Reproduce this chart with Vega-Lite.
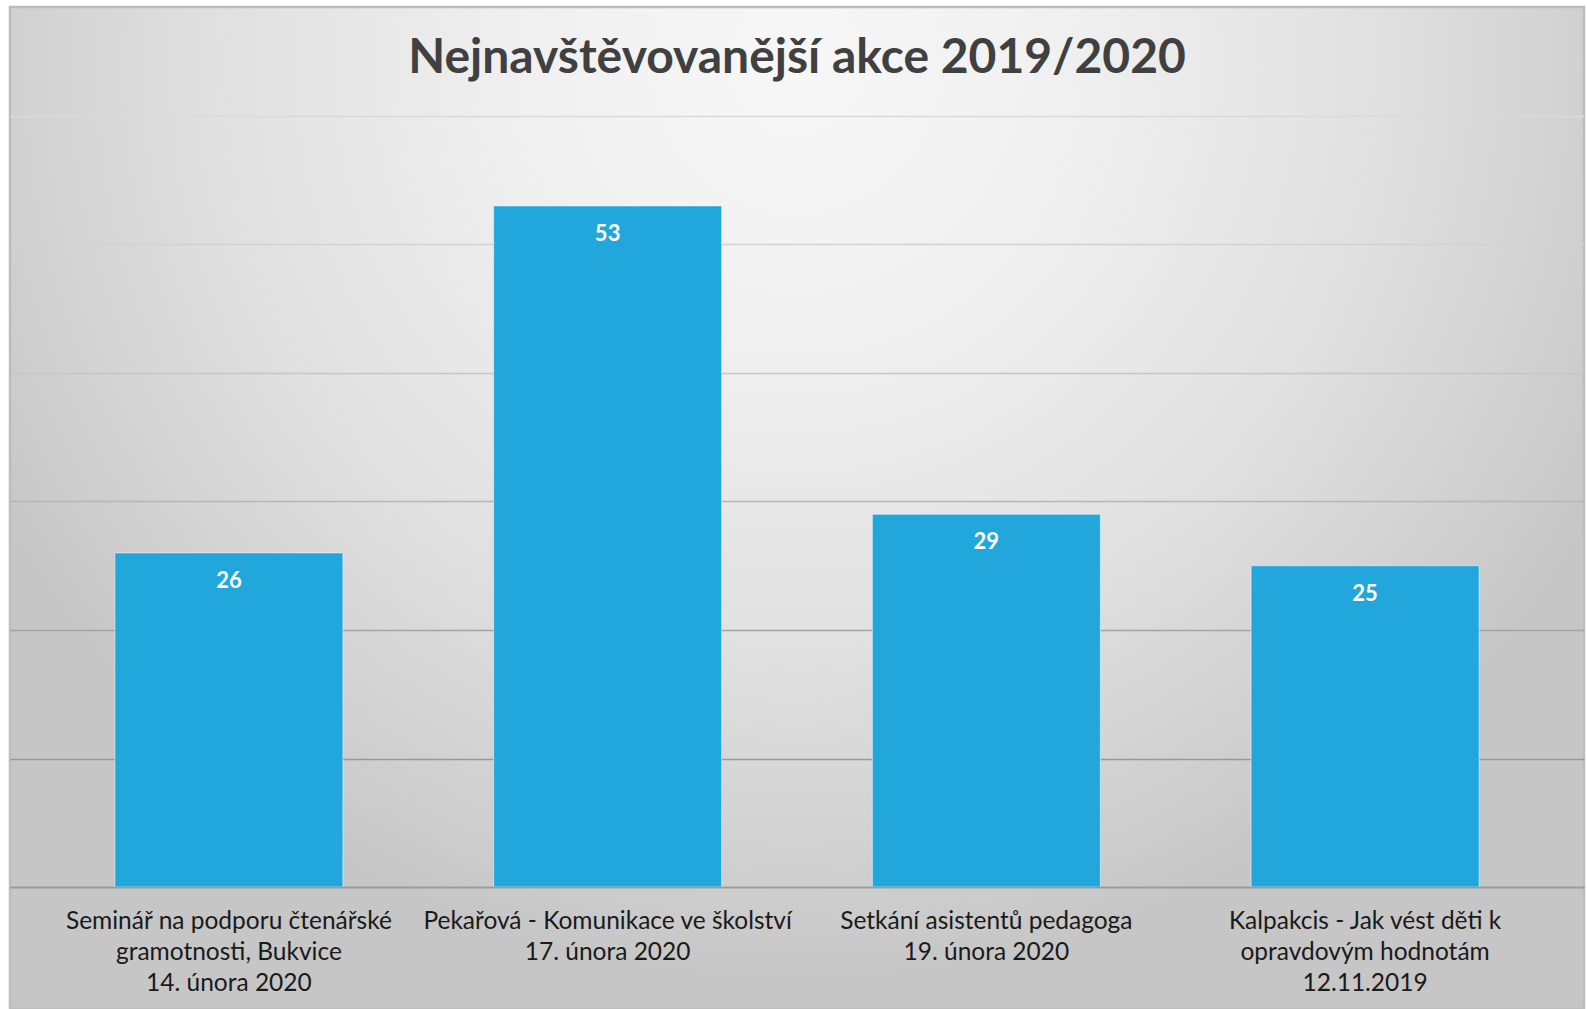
{
  "$schema": "https://vega.github.io/schema/vega-lite/v6.json",
  "width": 1574,
  "height": 1002,
  "autosize": {"type": "none"},
  "padding": {"left": 10, "top": 7, "right": 3, "bottom": 0},
  "background": "#ffffff",
  "view": {
    "fill": {
      "gradient": "radial",
      "x1": 0.5, "y1": 0.22, "r1": 0,
      "x2": 0.5, "y2": 0.22, "r2": 0.58,
      "stops": [
        {"offset": 0, "color": "#f7f7f7"},
        {"offset": 0.3, "color": "#f0f0f0"},
        {"offset": 0.64, "color": "#e0e0e0"},
        {"offset": 0.8, "color": "#d5d5d5"},
        {"offset": 0.94, "color": "#cbcbcb"},
        {"offset": 1, "color": "#c6c6c6"}
      ]
    },
    "stroke": "#bdbdbd",
    "strokeWidth": 2.5
  },
  "title": {
    "text": "Nejnavštěvovanější akce 2019/2020",
    "font": "Lato",
    "fontSize": 48,
    "fontWeight": "bold",
    "color": "#404040",
    "anchor": "middle",
    "baseline": "alphabetic",
    "offset": -114
  },
  "data": {
    "values": [
      {"akce": "Seminář na podporu čtenářské|gramotnosti, Bukvice|14. února 2020", "pocet": 26},
      {"akce": "Pekařová - Komunikace ve školství|17. února 2020", "pocet": 53},
      {"akce": "Setkání asistentů pedagoga|19. února 2020", "pocet": 29},
      {"akce": "Kalpakcis - Jak vést děti k|opravdovým hodnotám|12.11.2019", "pocet": 25}
    ]
  },
  "encoding": {
    "x": {
      "field": "akce",
      "type": "nominal",
      "sort": null,
      "scale": {"paddingInner": 0.398, "paddingOuter": 0.277},
      "axis": {
        "title": null,
        "orient": "bottom",
        "offset": -122,
        "domainColor": "#9a9a9a",
        "domainWidth": 1.5,
        "ticks": false,
        "tickSize": 0,
        "labelPadding": 22,
        "labelAngle": 0,
        "labelFont": "Lato",
        "labelFontSize": 24.5,
        "labelColor": "#1a1a1a",
        "labelLineHeight": 31,
        "labelBaseline": "top",
        "labelLimit": 0,
        "labelOverlap": false,
        "labelExpr": "split(datum.label, '|')",
        "grid": false,
        "zindex": 1
      }
    },
    "y": {
      "field": "pocet",
      "type": "quantitative",
      "scale": {"domain": [-9.494, 68.482], "nice": false, "zero": false},
      "axis": {
        "title": null,
        "labels": false,
        "ticks": false,
        "domain": false,
        "values": [0, 10, 20, 30, 40, 50, 60],
        "grid": true,
        "gridWidth": 1.5,
        "gridColor": {
          "condition": [
            {"test": "datum.value >= 60", "value": "#dadada"},
            {"test": "datum.value >= 50", "value": "#d2d2d2"},
            {"test": "datum.value >= 40", "value": "#c6c6c6"},
            {"test": "datum.value >= 30", "value": "#b6b6b6"},
            {"test": "datum.value >= 20", "value": "#a4a4a4"}
          ],
          "value": "#999999"
        }
      }
    }
  },
  "layer": [
    {
      "mark": {"type": "bar", "color": "#22a7dc", "stroke": "#ffffff", "strokeOpacity": 0.5, "strokeWidth": 1}
    },
    {
      "mark": {"type": "text", "color": "#ffffff", "font": "Lato", "fontWeight": "bold", "fontSize": 22, "baseline": "middle", "dy": 28},
      "encoding": {"text": {"field": "pocet", "type": "quantitative"}}
    }
  ]
}
